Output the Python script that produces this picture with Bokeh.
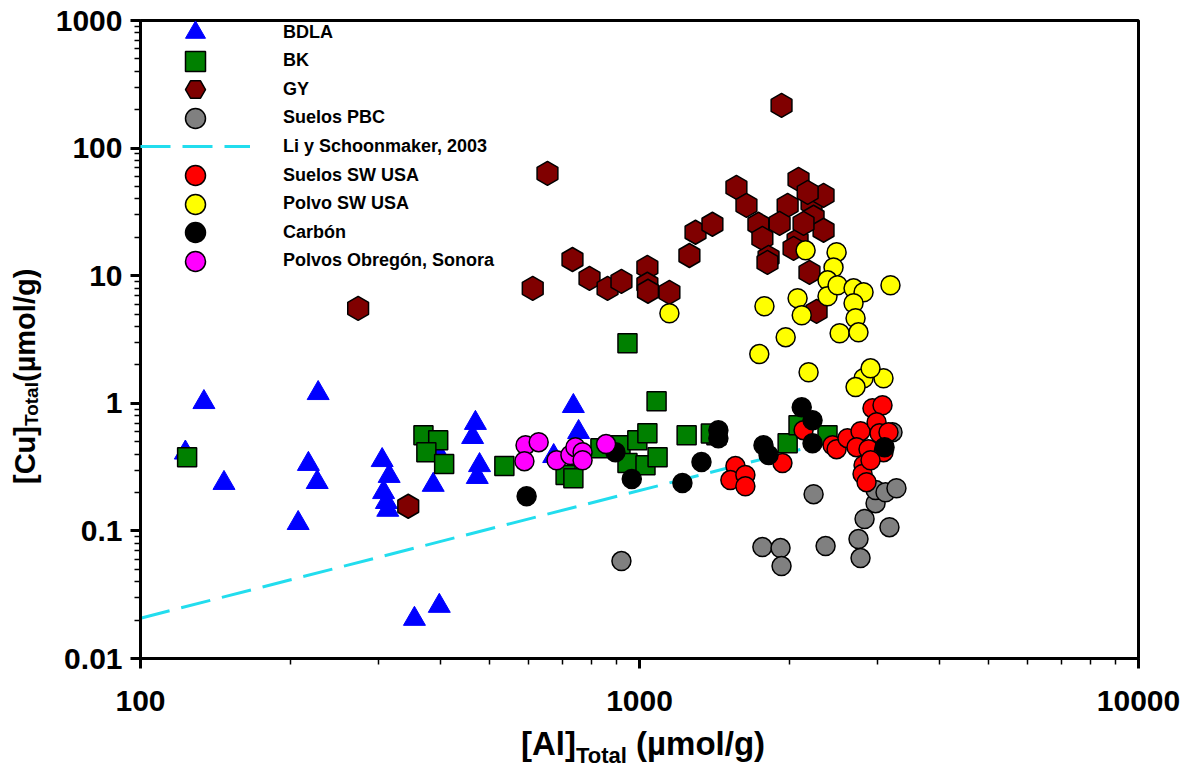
import numpy as np
from bokeh.plotting import figure
from bokeh.models import FixedTicker, CustomJSTickFormatter, Legend, LegendItem, Div
from bokeh.layouts import column, row
from bokeh.embed import file_html
from bokeh.resources import INLINE

# ---------------- data ----------------
bdla_al = [123, 134, 147, 207, 217, 227, 226, 305, 315, 307, 311, 313, 354, 397, 386, 397,
           469, 463, 478, 473, 673, 737, 755]
bdla_cu = [0.41, 1.02, 0.237, 0.115, 0.334, 1.20, 0.241, 0.358, 0.269, 0.201, 0.168, 0.146,
           0.0204, 0.0258, 0.229, 0.393, 0.70, 0.543, 0.327, 0.264, 0.385, 0.95, 0.594]

bk_al = [124, 369, 395, 374, 406, 536, 711, 737, 835, 916, 990, 1037, 946, 1028, 1087, 1082,
         946, 1243, 1426, 1981, 2083, 2381, 1390]
bk_cu = [0.378, 0.562, 0.514, 0.414, 0.334, 0.322, 0.274, 0.259, 0.445, 0.470, 0.514, 0.583,
         0.340, 0.327, 0.378, 1.04, 2.96, 0.562, 0.562, 0.487, 0.674, 0.562, 0.58]

gy_al = [273, 344, 611, 654, 734, 794, 863, 920, 1037, 1037, 1040, 1148, 1259, 1295, 1400,
         1564, 1638, 1731, 1763, 1814, 1805, 1926, 2083, 1981, 1909, 2212, 2338, 2233, 2338,
         2074, 2036, 2191, 2264, 2132, 2173]
gy_cu = [5.55, 0.156, 7.96, 63.4, 13.4, 9.54, 7.96, 9.04, 11.6, 8.57, 7.55, 7.41, 14.4, 21.9,
         25.3, 49.2, 35.6, 25.3, 19.6, 13.9, 12.7, 216, 56.9, 35.6, 25.7, 36.9, 42.6, 28.7,
         22.7, 18.9, 16.4, 10.6, 5.26, 25.7, 45.0]

pbc_al = [2233, 920, 1763, 1917, 1926, 2360, 2747, 2773, 2825, 3169, 2972, 2972, 3112, 3273,
          3214]
pbc_cu = [0.194, 0.058, 0.0747, 0.0733, 0.053, 0.076, 0.0863, 0.0612, 0.124, 0.107, 0.165,
          0.209, 0.201, 0.216, 0.594]

li_al = [100, 2100]
li_cu = [0.0207, 0.435]

sw_al = [1557, 1521, 1630, 1630, 1934, 2132, 2437, 2483, 2611, 2773, 2722, 2877, 2930, 3069,
         2986, 3027, 3155, 3083, 2812, 2799, 2851, 2904]
sw_cu = [0.322, 0.250, 0.274, 0.224, 0.340, 0.616, 0.470, 0.437, 0.533, 0.605, 0.453, 0.437,
         0.916, 0.966, 0.711, 0.583, 0.594, 0.414, 0.327, 0.279, 0.241, 0.358]

polvo_al = [1148, 1780, 2074, 2114, 2152, 2483, 2448, 2381, 2381, 2494, 2685, 2812, 2685, 2710,
            2518, 2747, 1963, 1738, 2182, 3184, 2812, 3083, 2710, 2904]
polvo_cu = [5.08, 5.76, 6.65, 4.90, 15.8, 15.3, 11.6, 9.2, 6.90, 8.41, 7.96, 7.41, 6.08, 4.64,
            3.54, 3.60, 3.30, 2.43, 1.75, 8.41, 1.57, 1.57, 1.34, 1.88]

carbon_al = [594, 895, 965, 1219, 1331, 1439, 1439, 1772, 1814, 2114, 2222, 2222, 3098]
carbon_cu = [0.187, 0.414, 0.255, 0.237, 0.346, 0.616, 0.533, 0.470, 0.393, 0.931, 0.738,
             0.487, 0.453]

obregon_al = [591, 628, 588, 682, 727, 744, 769, 769, 857]
obregon_cu = [0.470, 0.496, 0.352, 0.358, 0.393, 0.453, 0.414, 0.358, 0.479]

x_major = [100, 1000, 10000]
y_major = [0.01, 0.1, 1, 10, 100, 1000]

FONT = "Liberation Sans"

# ---------------- figure ----------------
p = figure(width=1144, height=725, x_axis_type="log", y_axis_type="log",
           x_range=(100, 10000), y_range=(0.01, 1000),
           output_backend="svg", toolbar_location=None,
           min_border_left=90, min_border_right=56, min_border_top=20, min_border_bottom=67)
p.margin = 0
p.xgrid.visible = False
p.ygrid.visible = False
p.outline_line_color = "black"
p.outline_line_width = 3
p.background_fill_color = "white"
p.border_fill_color = "white"

def minors(major):
    out = []
    for m in major[:-1]:
        out += [m * k for k in range(2, 10)]
    return out

p.xaxis.ticker = FixedTicker(ticks=x_major, minor_ticks=minors(x_major))
p.yaxis.ticker = FixedTicker(ticks=y_major, minor_ticks=minors(y_major))
p.xaxis.formatter = CustomJSTickFormatter(code="return String(tick);")
p.yaxis.formatter = CustomJSTickFormatter(code="return String(tick);")

for ax in (p.xaxis[0], p.yaxis[0]):
    ax.axis_line_width = 3
    ax.axis_line_color = "black"
    ax.major_tick_line_width = 3
    ax.major_tick_out = 10
    ax.major_tick_in = 0
    ax.minor_tick_line_width = 1.5
    ax.minor_tick_out = 6
    ax.minor_tick_in = 0
    ax.major_label_text_font = FONT
    ax.major_label_text_font_style = "bold"
    ax.major_label_text_font_size = "30px"
    ax.major_label_text_color = "black"
p.xaxis.major_label_standoff = 22
p.yaxis.major_label_standoff = 8

# ---------------- glyphs ----------------
r_li = p.line(li_al, li_cu, line_color="#22DDEE", line_width=3, line_dash="30 12")
r_bdla = p.scatter(bdla_al, bdla_cu, marker="triangle", size=22,
                   fill_color="#0000FF", line_color="#0000FF")
r_bk = p.scatter(bk_al, bk_cu, marker="square", size=19,
                 fill_color="#008000", line_color="black", line_width=1.5)
r_gy = p.scatter(gy_al, gy_cu, marker="hex", size=24, angle=np.pi / 2,
                 fill_color="#800000", line_color="black", line_width=1.5)
r_pbc = p.scatter(pbc_al, pbc_cu, marker="circle", size=19,
                  fill_color="#808080", line_color="black", line_width=1.5)
r_sw = p.scatter(sw_al, sw_cu, marker="circle", size=19,
                 fill_color="#FF0000", line_color="black", line_width=1.5)
r_polvo = p.scatter(polvo_al, polvo_cu, marker="circle", size=19,
                    fill_color="#FFFF00", line_color="black", line_width=1.5)
r_carbon = p.scatter(carbon_al, carbon_cu, marker="circle", size=19,
                     fill_color="#000000", line_color="black", line_width=1.5)
r_obr = p.scatter(obregon_al, obregon_cu, marker="circle", size=19,
                  fill_color="#FF00FF", line_color="black", line_width=1.5)

# ---------------- legend (one small legend per row, so markers stay large) ----------------
legend_entries = [
    ("BDLA", r_bdla),
    ("BK", r_bk),
    ("GY", r_gy),
    ("Suelos PBC", r_pbc),
    ("Li y Schoonmaker, 2003", r_li),
    ("Suelos SW USA", r_sw),
    ("Polvo SW USA", r_polvo),
    ("Carbón", r_carbon),
    ("Polvos Obregón, Sonora", r_obr),
]
FRAME_H = 638
ROW0 = 12.0      # first row centre, px below the frame top
ROW_STEP = 28.6  # px between rows
GLYPH_H = 50
for i, (lab, rend) in enumerate(legend_entries):
    centre = ROW0 + ROW_STEP * i
    bottom = FRAME_H - centre - GLYPH_H / 2
    lg = Legend(items=[LegendItem(label=lab, renderers=[rend])],
                location=(0, bottom), orientation="vertical",
                glyph_width=110, glyph_height=GLYPH_H, label_height=GLYPH_H, spacing=0,
                padding=0, margin=0, label_standoff=33,
                background_fill_alpha=0, border_line_alpha=0,
                label_text_font=FONT, label_text_font_style="bold",
                label_text_font_size="18px", label_text_color="black")
    p.add_layout(lg)

# ---------------- axis titles (HTML, with subscripts) ----------------
x_style = {"font-family": FONT, "font-weight": "bold", "font-size": "33px",
           "color": "black", "line-height": "1.15"}
y_style = {"font-family": FONT, "font-weight": "bold", "font-size": "29px",
           "color": "black", "line-height": "1.15"}

ylab = Div(text='[Cu]<sub style="font-size:19px">Total</sub>(µmol/g)',
           width=50, height=725, margin=0,
           styles=dict(y_style, **{"writing-mode": "vertical-rl",
                                   "transform": "rotate(180deg)",
                                   "transform-origin": "50% 50%",
                                   "text-align": "center",
                                   "white-space": "nowrap",
                                   "height": "725px",
                                   "width": "50px",
                                   "padding-right": "9px",
                                   "padding-bottom": "27px",
                                   "box-sizing": "border-box"}))
xlab = Div(text='[Al]<sub style="font-size:22px">Total</sub> (µmol/g)',
           width=1194, height=46, margin=0,
           styles=dict(x_style, **{"text-align": "center",
                                   "white-space": "nowrap",
                                   "padding-left": "92px",
                                   "padding-top": "0px",
                                   "box-sizing": "border-box"}))

layout = column(row(ylab, p, spacing=0), xlab, spacing=0)

open("out.html", "w").write(file_html(layout, INLINE))
